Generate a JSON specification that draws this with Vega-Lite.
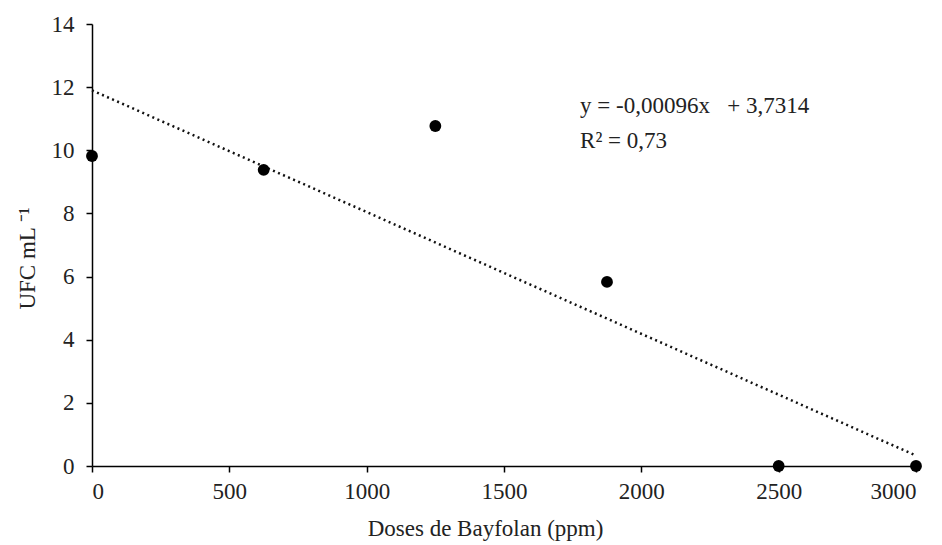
{
  "$schema": "https://vega.github.io/schema/vega-lite/v6.json",
  "width": 824,
  "height": 442,
  "autosize": {"type": "none"},
  "padding": {"left": 92, "top": 24, "right": 26, "bottom": 79},
  "background": "white",
  "config": {
    "view": {"stroke": null},
    "font": "Liberation Serif",
    "axis": {
      "grid": false,
      "domainColor": "black",
      "domainWidth": 1.5,
      "tickColor": "black",
      "tickWidth": 1.5,
      "tickSize": 6,
      "labelFont": "Liberation Serif",
      "labelFontSize": 23,
      "labelColor": "#222",
      "titleFont": "Liberation Serif",
      "titleFontSize": 23,
      "titleFontWeight": "normal",
      "titleColor": "#222"
    }
  },
  "datasets": {
    "pts": [
      {"dose": 0, "ufc": 9.82},
      {"dose": 625, "ufc": 9.38},
      {"dose": 1250, "ufc": 10.77},
      {"dose": 1875, "ufc": 5.83},
      {"dose": 2500, "ufc": 0},
      {"dose": 3000, "ufc": 0}
    ],
    "trend": [
      {"dose": 0, "ufc": 11.9},
      {"dose": 3000, "ufc": 0.33}
    ],
    "labels": [
      {"dose": 1777, "ufc": 11.18, "txt": "y = -0,00096x\u00a0\u00a0 + 3,7314"},
      {"dose": 1777, "ufc": 10.07, "txt": "R² = 0,73"}
    ]
  },
  "layer": [
    {
      "data": {"name": "trend"},
      "mark": {"type": "line", "color": "#111", "strokeWidth": 2.5, "strokeDash": [2, 3.5]},
      "encoding": {
        "x": {"field": "dose", "type": "quantitative", "scale": {"domain": [0, 3000], "nice": false},
          "axis": {"values": [0, 500, 1000, 1500, 2000, 2500, 3000], "format": "d", "title": "Doses de Bayfolan (ppm)", "labelPadding": 8, "titlePadding": 14, "titleX": 393}},
        "y": {"field": "ufc", "type": "quantitative", "scale": {"domain": [0, 14], "nice": false},
          "axis": {"values": [0, 2, 4, 6, 8, 10, 12, 14], "format": "d", "title": "UFC mL ⁻¹", "labelPadding": 12, "titlePadding": 12, "titleY": 234}}
      }
    },
    {
      "data": {"name": "pts"},
      "mark": {"type": "point", "filled": true, "color": "black", "size": 140, "opacity": 1},
      "encoding": {
        "x": {"field": "dose", "type": "quantitative"},
        "y": {"field": "ufc", "type": "quantitative"}
      }
    },
    {
      "data": {"name": "labels"},
      "mark": {"type": "text", "align": "left", "baseline": "alphabetic", "fontSize": 23, "font": "Liberation Serif", "color": "#222"},
      "encoding": {
        "x": {"field": "dose", "type": "quantitative"},
        "y": {"field": "ufc", "type": "quantitative"},
        "text": {"field": "txt"}
      }
    }
  ]
}
